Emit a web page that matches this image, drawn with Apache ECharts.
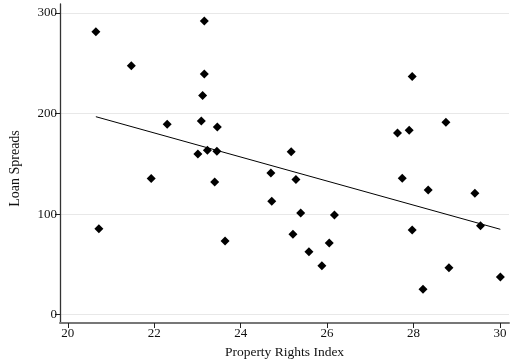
<!DOCTYPE html>
<html>
<head>
<meta charset="utf-8">
<script src="https://cdn.jsdelivr.net/npm/echarts@6/dist/echarts.min.js"></script>
<style>
  html, body { margin: 0; padding: 0; background: #fff; }
  #chart { width: 517px; height: 362px; }
</style>
</head>
<body>
<div id="chart"></div>
<script>
// Property rights index vs. loan spreads, one point per country
const propertyRights = [
  20.65, 20.72, 21.47, 21.93, 22.30, 23.16, 23.16, 23.12, 23.09, 23.46,
  23.23, 23.45, 23.01, 23.40, 23.64, 24.70, 24.72, 25.17, 25.28, 25.21,
  25.39, 25.58, 25.88, 26.05, 26.17, 27.63, 27.90, 27.97, 27.74, 27.97,
  28.34, 28.22, 28.75, 28.82, 29.42, 29.55, 30.01
];
const loanSpreads = [
  281.4, 85.5, 247.6, 135.4, 189.3, 292.0, 239.3, 218.1, 192.6, 186.6,
  163.5, 162.5, 159.8, 131.9, 73.3, 140.9, 112.7, 162.1, 134.5, 79.9,
  101.1, 62.6, 48.7, 71.3, 99.1, 180.7, 183.4, 237.0, 135.6, 84.2,
  124.0, 25.3, 191.3, 46.7, 120.7, 88.5, 37.5
];
// Fitted linear trend, evaluated at the ends of the data range
const fitX = [20.65, 30.01];
const fitY = [196.9, 84.9];

const xTicks = [20, 22, 24, 26, 28, 30];
const yTicks = [0, 100, 200, 300];

const serif = '"Liberation Serif", "DejaVu Serif", serif';

const chart = echarts.init(document.getElementById('chart'), null, { renderer: 'canvas' });
chart.setOption({
  animation: false,
  backgroundColor: '#ffffff',
  grid: { left: 60, right: 8, top: 4, bottom: 39, containLabel: false, outerBoundsMode: 'none' },
  xAxis: {
    type: 'value',
    min: 19.82,
    max: 30.21,
    name: 'Property Rights Index',
    nameLocation: 'middle',
    nameGap: 22,
    nameTextStyle: { fontFamily: serif, fontSize: 13.5, color: '#111' },
    axisLine: { show: true, onZero: false, lineStyle: { color: '#777', width: 2 } },
    axisTick: { show: true, length: 5, customValues: xTicks, lineStyle: { color: '#222', width: 1 } },
    axisLabel: { customValues: xTicks, fontFamily: serif, fontSize: 13, color: '#111', margin: 4 },
    splitLine: { show: false }
  },
  yAxis: {
    type: 'value',
    min: -8.3,
    max: 309,
    name: 'Loan Spreads',
    nameLocation: 'middle',
    nameGap: 38,
    nameRotate: 90,
    nameTextStyle: { fontFamily: serif, fontSize: 14, color: '#111', padding: [0, 10, 0, 0] },
    axisLine: { show: true, onZero: false, lineStyle: { color: '#333', width: 1.3 } },
    axisTick: { show: true, length: 5, customValues: yTicks, lineStyle: { color: '#222', width: 1 } },
    axisLabel: { customValues: yTicks, fontFamily: serif, fontSize: 13, color: '#111', margin: 3 },
    splitLine: { show: true, lineStyle: { color: '#e8e8e8', width: 1 } }
  },
  series: [
    {
      type: 'scatter',
      symbol: 'diamond',
      symbolSize: 9,
      itemStyle: { color: '#000', opacity: 1 },
      data: propertyRights.map((x, i) => [x, loanSpreads[i]]),
      z: 3
    },
    {
      type: 'line',
      data: fitX.map((x, i) => [x, fitY[i]]),
      symbol: 'none',
      lineStyle: { color: '#000', width: 1 },
      z: 2
    }
  ]
});
</script>
</body>
</html>
